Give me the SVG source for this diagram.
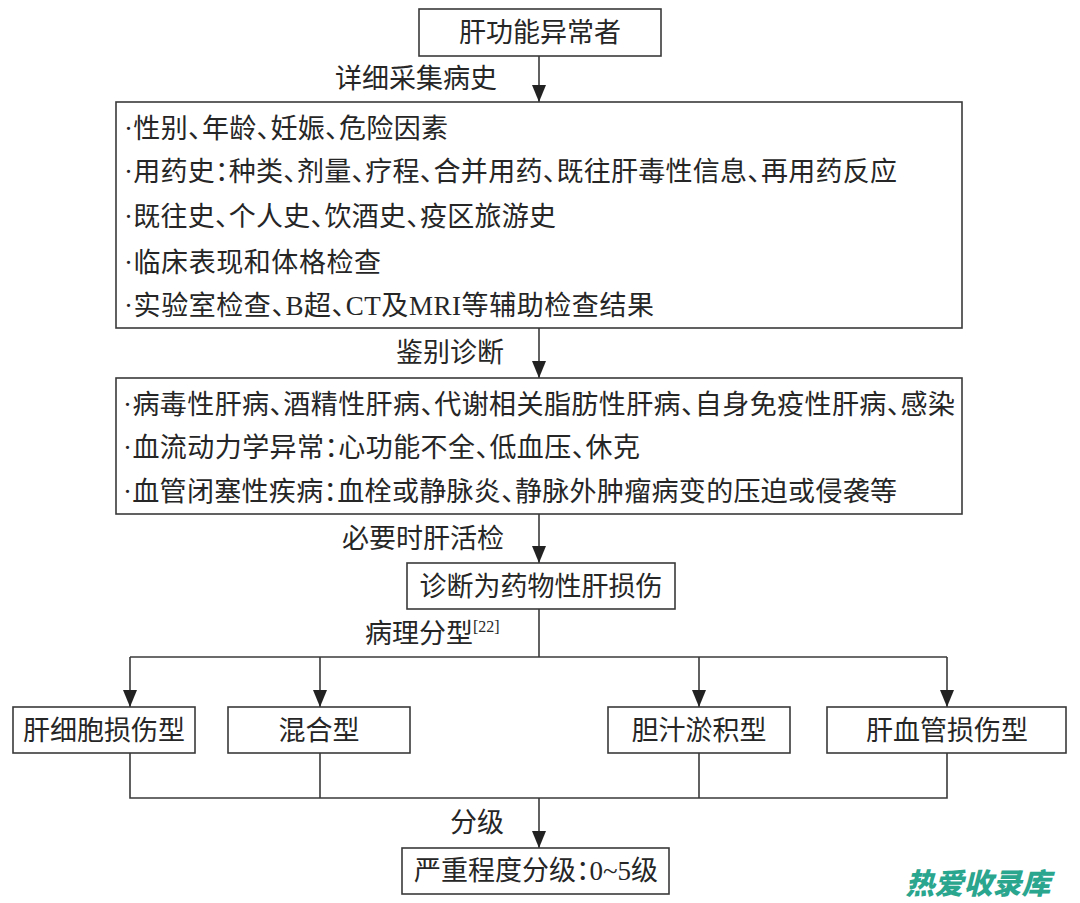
<svg xmlns="http://www.w3.org/2000/svg" width="1080" height="903" viewBox="0 0 1080 903">
<style>
.bg{fill:#ffffff}
.box{fill:#ffffff;stroke:#3a3a3a;stroke-width:1.6}
.ln{fill:none;stroke:#3a3a3a;stroke-width:1.6}
text{font-family:"Liberation Serif","Noto Sans CJK SC",serif;fill:#262626;font-feature-settings:"halt" 1}
.t{font-size:27px}
.c{text-anchor:middle}
.sup{font-size:16px}
.wm{font-family:"Noto Sans CJK SC",sans-serif;font-weight:900;font-style:italic;font-size:29px;fill:#2aa58e;text-anchor:middle;font-feature-settings:normal}
</style>
<defs>
<marker id="dn" markerUnits="userSpaceOnUse" markerWidth="14" markerHeight="17" refX="7" refY="17" orient="0" viewBox="0 0 14 17">
<path d="M0,0 L14,0 L7,17 Z" fill="#222222"/>
</marker>
</defs>
<rect class="bg" x="0" y="0" width="1080" height="903"/>

<g id="connectors">
<line class="ln" x1="539" y1="56" x2="539" y2="102" marker-end="url(#dn)"/>
<line class="ln" x1="539" y1="328" x2="539" y2="378" marker-end="url(#dn)"/>
<line class="ln" x1="539" y1="514" x2="539" y2="563" marker-end="url(#dn)"/>
<line class="ln" x1="539" y1="609" x2="539" y2="657"/>
<line class="ln" x1="130" y1="657" x2="947" y2="657"/>
<line class="ln" x1="130" y1="657" x2="130" y2="707" marker-end="url(#dn)"/>
<line class="ln" x1="320" y1="657" x2="320" y2="707" marker-end="url(#dn)"/>
<line class="ln" x1="699" y1="657" x2="699" y2="707" marker-end="url(#dn)"/>
<line class="ln" x1="947" y1="657" x2="947" y2="707" marker-end="url(#dn)"/>
<polyline class="ln" points="130,753 130,798 947,798 947,753"/>
<line class="ln" x1="320" y1="753" x2="320" y2="798"/>
<line class="ln" x1="699" y1="753" x2="699" y2="798"/>
<line class="ln" x1="539" y1="798" x2="539" y2="848" marker-end="url(#dn)"/>
<text class="t c" x="416" y="88">详细采集病史</text>
<text class="t c" x="450" y="362">鉴别诊断</text>
<text class="t c" x="423" y="548">必要时肝活检</text>
<text class="t" x="365" y="643">病理分型<tspan class="sup" dy="-11">[22]</tspan></text>
<text class="t c" x="477" y="832">分级</text>
</g>

<g id="n-start">
<rect class="box" x="419" y="9" width="242" height="47"/>
<text class="t c" x="540" y="42">肝功能异常者</text>
</g>

<g id="n-history">
<rect class="box" x="116" y="102" width="846" height="226"/>
<text class="t" x="124" y="138" textLength="324" lengthAdjust="spacing">·性别、年龄、妊娠、危险因素</text>
<text class="t" x="124" y="181" textLength="773" lengthAdjust="spacing">·用药史：种类、剂量、疗程、合并用药、既往肝毒性信息、再用药反应</text>
<text class="t" x="124" y="226" textLength="432" lengthAdjust="spacing">·既往史、个人史、饮酒史、疫区旅游史</text>
<text class="t" x="124" y="272" textLength="257" lengthAdjust="spacing">·临床表现和体格检查</text>
<text class="t" x="124" y="315" textLength="530" lengthAdjust="spacing">·实验室检查、B超、CT及MRI等辅助检查结果</text>
</g>

<g id="n-diff">
<rect class="box" x="116" y="378" width="846" height="136"/>
<text class="t" x="123" y="414" textLength="832" lengthAdjust="spacing">·病毒性肝病、酒精性肝病、代谢相关脂肪性肝病、自身免疫性肝病、感染</text>
<text class="t" x="123" y="457" textLength="517" lengthAdjust="spacing">·血流动力学异常：心功能不全、低血压、休克</text>
<text class="t" x="123" y="501" textLength="774" lengthAdjust="spacing">·血管闭塞性疾病：血栓或静脉炎、静脉外肿瘤病变的压迫或侵袭等</text>
</g>

<g id="n-dili">
<rect class="box" x="407" y="563" width="268" height="46"/>
<text class="t c" x="541" y="596">诊断为药物性肝损伤</text>
</g>

<g id="n-hep">
<rect class="box" x="13" y="707" width="182" height="46"/>
<text class="t c" x="104" y="740">肝细胞损伤型</text>
</g>
<g id="n-mixed">
<rect class="box" x="228" y="707" width="182" height="46"/>
<text class="t c" x="319" y="740">混合型</text>
</g>
<g id="n-chol">
<rect class="box" x="608" y="707" width="182" height="46"/>
<text class="t c" x="699" y="740">胆汁淤积型</text>
</g>
<g id="n-vasc">
<rect class="box" x="827" y="707" width="239" height="46"/>
<text class="t c" x="947" y="740">肝血管损伤型</text>
</g>

<g id="n-grade">
<rect class="box" x="402" y="848" width="267" height="46"/>
<text class="t c" x="536" y="880">严重程度分级：0~5级</text>
</g>

<text class="wm" x="978" y="894">热爱收录库</text>
</svg>
